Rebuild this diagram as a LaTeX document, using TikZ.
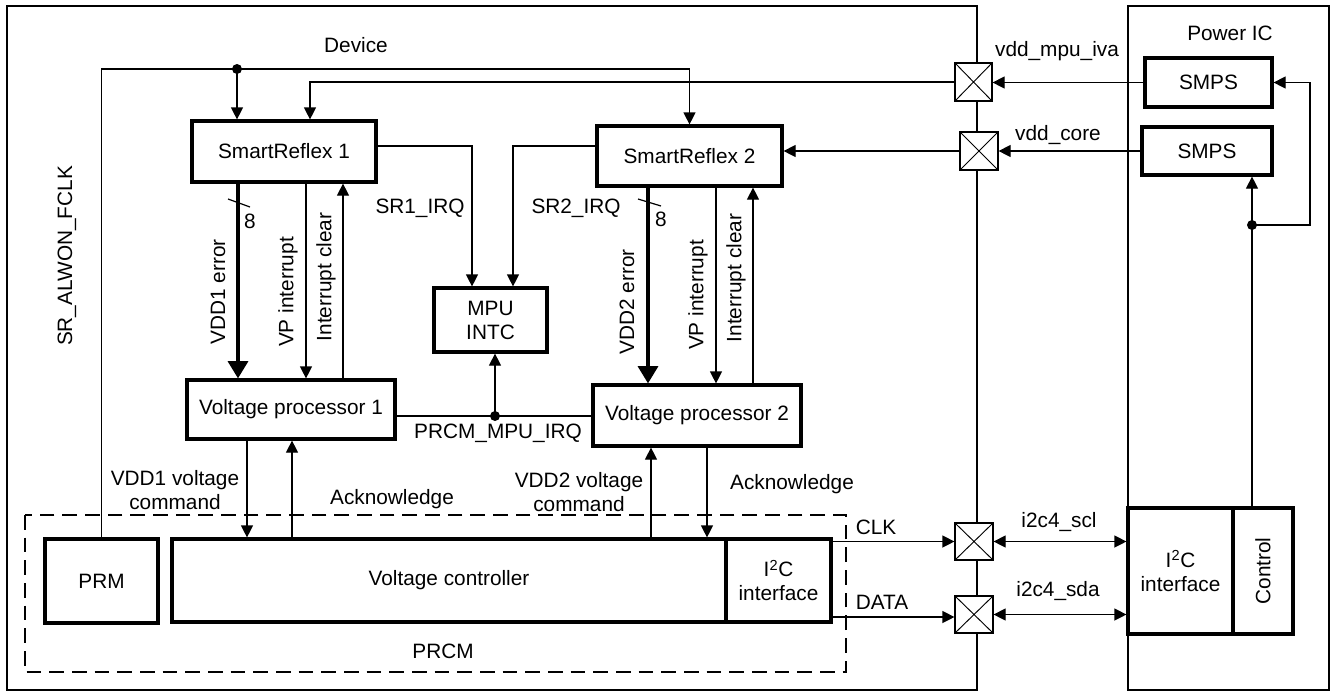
\documentclass[tikz,border=0pt]{standalone}
\usepackage{fontspec}
\setmainfont{Liberation Sans}
\usetikzlibrary{arrows.meta}
\begin{document}
\begin{tikzpicture}[x=0.75pt,y=-0.75pt,
  every node/.style={font=\fontsize{15.6}{18}\selectfont},
  blk/.style={draw, line width=2.4pt, fill=white, inner sep=0pt, align=center},
  pad/.style={draw, line width=0.9pt, fill=white, inner sep=0pt,
    path picture={\draw[line width=0.7pt] (path picture bounding box.north west) -- (path picture bounding box.south east)
      (path picture bounding box.south west) -- (path picture bounding box.north east);}},
  ln/.style={line width=0.9pt},
  arr/.style={ln, -{Triangle[length=9pt,width=9pt]}},
  darr/.style={ln, {Triangle[length=9pt,width=9pt]}-{Triangle[length=9pt,width=9pt]}},
  tarr/.style={line width=2.6pt, -{Triangle[length=13pt,width=15pt]}},
  lbl/.style={inner sep=1pt, align=center},
  vlbl/.style={rotate=90, inner sep=1pt},
  dot/.style={circle, fill, inner sep=0pt, minimum size=7.5pt},
  frame/.style={line width=1.5pt}]

\fill[white] (0,0) rectangle (1330,694);
\useasboundingbox (0,0) rectangle (1330,694);

% outer frames
\draw[frame] (7,6) rectangle (977,690);
\draw[frame] (1128,6) rectangle (1329,690);
\draw[line width=1.5pt, dash pattern=on 11pt off 6pt] (25,515) rectangle (846,672);

% blocks
\node[blk, minimum width=138pt, minimum height=45.75pt] (sr1) at (284,151.5) {SmartReflex 1};
\node[blk, minimum width=138.75pt, minimum height=45pt] (sr2) at (689.5,156) {SmartReflex 2};
\node[blk, minimum width=84.75pt, minimum height=48pt] (mpu) at (490.5,320) {MPU\\INTC};
\node[blk, minimum width=156pt, minimum height=44.25pt] (vp1) at (291,409.5) {Voltage processor 1};
\node[blk, minimum width=156pt, minimum height=45.75pt] (vp2) at (697,415.5) {Voltage processor 2};
\node[blk, minimum width=84.75pt, minimum height=63pt] (prm) at (101.5,581) {PRM};
\node[blk, minimum width=415.5pt, minimum height=62.25pt] (vc) at (449,580.5) {Voltage controller};
\node[blk, minimum width=78.75pt, minimum height=62.25pt] (i2c) at (778.5,580.5) {I\textsuperscript{2}C\\interface};
\node[blk, minimum width=95.25pt, minimum height=36.75pt] (smps1) at (1208.5,82.5) {SMPS};
\node[blk, minimum width=97.5pt, minimum height=36pt] (smps2) at (1207,151) {SMPS};
\node[blk, minimum width=78.75pt, minimum height=94.5pt] (pic) at (1180.5,571) {I\textsuperscript{2}C\\interface};
\node[blk, minimum width=45pt, minimum height=94.5pt] (ctrl) at (1263,571) {};
\node[vlbl] (lctrl) at (ctrl.center) {Control};

\node[pad, minimum width=27.75pt, minimum height=28.5pt] (pad1) at (973.5,82) {};
\node[pad, minimum width=28.5pt, minimum height=28.5pt] (pad2) at (979,151) {};
\node[pad, minimum width=28.5pt, minimum height=27.75pt] (pad3) at (974,541.5) {};
\node[pad, minimum width=28.5pt, minimum height=27.75pt] (pad4) at (974,614.5) {};

\node[dot] (dA) at (237,69) {};
\node[dot] (dC) at (1252,225) {};
\node[dot] (dP) at (495,416) {};

% clock line
\draw[ln] (prm.north) |- (dA.center);
\draw[arr] (dA.center) -| (sr2.north);
\draw[arr] (dA.center) -- (dA |- sr1.north);

% supplies
\draw[arr] (pad1.west) -| (310,0 |- sr1.north);
\draw[arr] (smps1.west) -- (pad1.east |- smps1.west);
\draw[arr] (pad2.west) -- (pad2.west -| sr2.east);
\draw[arr] (smps2.west) -- (pad2.east |- smps2.west);

% power IC control
\draw[ln] (1252,0 |- ctrl.north) -- (dC.center);
\draw[arr] (dC.center) -- (dC |- smps2.south);
\draw[arr] (dC.center) -- (1310,0 |- dC) |- (smps1.east);

% SR1 <-> VP1
\draw[tarr] (238,0 |- sr1.south) -- (238,0 |- vp1.north);
\draw[arr] (306,0 |- sr1.south) -- (306,0 |- vp1.north);
\draw[arr] (343,0 |- vp1.north) -- (343,0 |- sr1.south);
\draw[ln] (228,199) -- (250,207);

% SR2 <-> VP2
\draw[tarr] (648,0 |- sr2.south) -- (648,0 |- vp2.north);
\draw[arr] (716,0 |- sr2.south) -- (716,0 |- vp2.north);
\draw[arr] (753,0 |- vp2.north) -- (753,0 |- sr2.south);
\draw[ln] (638,199) -- (661,206);

% IRQs
\draw[arr] (sr1.east |- 0,146) -| (472,0 |- mpu.north);
\draw[arr] (sr2.west |- 0,146) -| (513,0 |- mpu.north);
\draw[ln] (vp1.east |- dP) -- (vp2.west |- dP);
\draw[arr] (dP.center) -- (dP |- mpu.south);

% VP <-> VC
\draw[arr] (247,0 |- vp1.south) -- (247,0 |- vc.north);
\draw[arr] (292,0 |- vc.north) -- (292,0 |- vp1.south);
\draw[arr] (651,0 |- vc.north) -- (651,0 |- vp2.south);
\draw[arr] (707,0 |- vp2.south) -- (707,0 |- vc.north);

% I2C
\draw[arr] (i2c.east |- pad3) -- (pad3.west);
\draw[arr] (i2c.east |- 0,617) -- (pad4.west |- 0,617);
\draw[darr] (pad3.east) -- (pad3.east -| pic.west);
\draw[darr] (pad4.east) -- (pad4.east -| pic.west);

% labels
\node[lbl] (lDev) at (356,45) {Device};
\node[lbl] (lPIC) at (1230,33) {Power IC};
\node[lbl] (lmpu) at (1057,51) {vdd\_mpu\_iva};
\node[lbl] (lcore) at (1058,135) {vdd\_core};
\node[lbl] (lscl) at (1059,522) {i2c4\_scl};
\node[lbl] (lsda) at (1058,591) {i2c4\_sda};
\node[lbl] (lclk) at (876,527) {CLK};
\node[lbl] (ldata) at (882,602) {DATA};
\node[vlbl] (lfclk) at (67,256) {SR\_ALWON\_FCLK};
\node[vlbl] (le1) at (218,292) {VDD1 error};
\node[vlbl] (lvp1) at (288,292) {VP interrupt};
\node[vlbl] (lic1) at (326,277) {Interrupt clear};
\node[vlbl] (le2) at (627,302) {VDD2 error};
\node[vlbl] (lvp2) at (698,295) {VP interrupt};
\node[vlbl] (lic2) at (736,278) {Interrupt clear};
\node[lbl] (l81) at (250,221) {8};
\node[lbl] (l82) at (661,219) {8};
\node[lbl] (lsr1) at (420,208) {SR1\_IRQ};
\node[lbl] (lsr2) at (576,208) {SR2\_IRQ};
\node[lbl] (lprcmirq) at (498,433) {PRCM\_MPU\_IRQ};
\node[lbl] (lvc1) at (175,490) {VDD1 voltage\\command};
\node[lbl] (lack1) at (392,499) {Acknowledge};
\node[lbl] (lvc2) at (579,492) {VDD2 voltage\\command};
\node[lbl] (lack2) at (792,484) {Acknowledge};
\node[lbl] (lprcm) at (443,651) {PRCM};
\end{tikzpicture}
\end{document}
